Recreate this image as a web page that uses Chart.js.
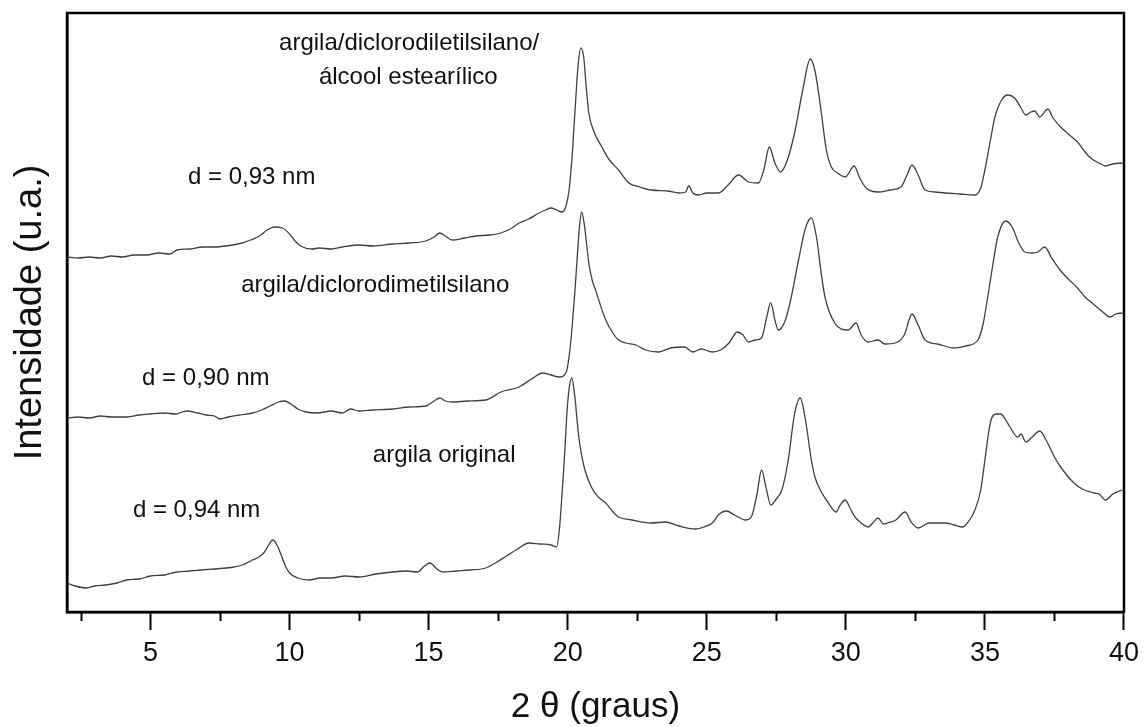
<!DOCTYPE html>
<html>
<head>
<meta charset="utf-8">
<script src="https://cdn.jsdelivr.net/npm/chart.js@4"></script>
<style>
  html, body { margin: 0; padding: 0; background: #fff; }
  #wrap { width: 1146px; height: 727px; }
</style>
</head>
<body>
<div id="wrap"><canvas id="xrd"></canvas></div>
<script>
// ----- DRX data (2θ in degrees, intensity in arbitrary units, curves already offset) -----

const thetaOriginal = [2.0, 2.3, 2.7, 3.0, 3.4, 3.8, 4.15, 4.6, 5.0, 5.5,
  5.95, 6.4, 6.8, 7.3, 7.74, 8.0, 8.3, 8.67, 8.9, 9.1,
  9.25, 9.39, 9.55, 9.7, 9.85, 10.0, 10.3, 10.7, 11.1, 11.5,
  12.0, 12.5, 13.1, 13.7, 14.2, 14.6, 14.85, 15.05, 15.3, 15.5,
  16.0, 16.5, 17.06, 17.4, 17.8, 18.2, 18.6, 19.0, 19.4, 19.6,
  19.7, 19.8, 19.9, 19.98, 20.07, 20.15, 20.25, 20.4, 20.6, 20.87,
  21.1, 21.37, 21.6, 21.83, 22.3, 23.0, 23.5, 24.0, 24.6, 24.9,
  25.2, 25.45, 25.7, 26.0, 26.4, 26.6, 26.8, 26.97, 27.15, 27.3,
  27.5, 27.7, 27.93, 28.15, 28.36, 28.55, 28.76, 28.9, 29.08, 29.35,
  29.65, 29.8, 29.98, 30.15, 30.33, 30.55, 30.8, 31.0, 31.16, 31.35,
  31.5, 31.8, 32.13, 32.35, 32.6, 33.0, 33.57, 33.9, 34.2, 34.45,
  34.64, 34.85, 35.0, 35.12, 35.22, 35.4, 35.57, 35.75, 35.9, 36.18,
  36.3, 36.47, 36.7, 36.97, 37.2, 37.5, 37.8, 38.2, 38.5, 38.94,
  39.1, 39.34, 39.6, 39.95];
const intOriginal = [29, 26, 24, 26, 27, 29, 32, 33, 36, 37,
  40, 41, 42, 43, 44, 45, 47, 52, 55, 60,
  67, 72, 67, 57, 46, 39, 34, 32, 34, 34,
  36, 35, 38, 40, 41, 40, 46, 49, 43, 40,
  41, 42, 44, 49, 56, 63, 69, 68, 67, 65,
  82, 119, 162, 202, 227, 234, 217, 175, 144, 124,
  115, 109, 101, 95, 92, 89, 90, 86, 83, 85,
  89, 98, 101, 97, 92, 95, 117, 142, 122, 107,
  113, 122, 152, 197, 214, 192, 152, 134, 122, 110,
  100, 107, 112, 104, 95, 89, 85, 90, 94, 88,
  89, 92, 100, 90, 84, 89, 89, 87, 85, 92,
  102, 122, 152, 177, 192, 198, 198, 192, 185, 175,
  178, 170, 175, 181, 172, 155, 142, 129, 123, 119,
  118, 112, 118, 122];

const thetaDimetil = [2.0, 2.4, 2.8, 3.2, 3.6, 4.15, 4.6, 5.0, 5.5, 5.9,
  6.3, 6.7, 7.0, 7.3, 7.5, 7.8, 8.2, 8.67, 9.0, 9.3,
  9.6, 9.82, 10.05, 10.3, 10.6, 11.0, 11.5, 11.9, 12.2, 12.5,
  13.0, 13.7, 14.3, 14.9, 15.2, 15.4, 15.6, 15.85, 16.4, 17.06,
  17.6, 18.25, 18.7, 19.1, 19.4, 19.7, 19.95, 20.08, 20.15, 20.25,
  20.33, 20.42, 20.5, 20.6, 20.76, 20.88, 21.0, 21.2, 21.37, 21.6,
  21.83, 22.1, 22.45, 22.8, 23.27, 23.7, 24.2, 24.5, 24.8, 25.2,
  25.5, 25.8, 26.1, 26.3, 26.5, 26.75, 26.97, 27.15, 27.3, 27.45,
  27.57, 27.8, 28.0, 28.3, 28.55, 28.76, 28.95, 29.1, 29.25, 29.6,
  30.08, 30.37, 30.55, 30.8, 31.16, 31.4, 31.77, 32.1, 32.38, 32.6,
  32.85, 33.3, 33.9, 34.3, 34.75, 34.95, 35.1, 35.3, 35.46, 35.75,
  36.0, 36.2, 36.43, 36.7, 36.9, 37.15, 37.4, 37.7, 38.0, 38.33,
  38.6, 38.94, 39.2, 39.5, 39.7, 39.95];
const intDimetil = [194, 195, 194, 196, 195, 195, 197, 198, 199, 198,
  201, 199, 197, 196, 193, 195, 197, 199, 202, 206,
  210, 211, 208, 203, 200, 199, 201, 199, 203, 201,
  202, 203, 205, 206, 211, 214, 211, 210, 211, 212,
  220, 225, 233, 239, 237, 235, 240, 262, 282, 317,
  349, 384, 400, 387, 349, 332, 322, 305, 292, 280,
  272, 269, 267, 262, 260, 264, 265, 260, 263, 260,
  262, 269, 280, 277, 270, 272, 274, 294, 309, 292,
  282, 290, 310, 352, 384, 394, 374, 342, 315, 289,
  282, 289, 277, 270, 272, 268, 269, 277, 298, 287,
  272, 268, 264, 266, 272, 290, 315, 350, 375, 391,
  384, 370, 360, 359, 360, 365, 354, 342, 333, 324,
  315, 307, 301, 295, 298, 299];

const thetaEstearil = [2.0, 2.4, 2.8, 3.2, 3.6, 4.0, 4.4, 4.87, 5.3, 5.7,
  5.95, 6.4, 6.88, 7.3, 7.95, 8.3, 8.6, 8.92, 9.2, 9.45,
  9.75, 10.0, 10.2, 10.4, 10.8, 11.07, 11.5, 11.9, 12.5, 13.0,
  13.7, 14.3, 14.9, 15.2, 15.4, 15.6, 15.85, 16.3, 16.7, 17.2,
  17.6, 18.0, 18.25, 18.6, 18.9, 19.2, 19.4, 19.6, 19.8, 19.95,
  20.05, 20.15, 20.22, 20.3, 20.36, 20.47, 20.58, 20.66, 20.76, 20.95,
  21.23, 21.5, 21.83, 22.2, 22.6, 23.0, 23.6, 24.0, 24.24, 24.35,
  24.5, 24.7, 25.0, 25.42, 25.8, 26.14, 26.5, 26.86, 27.05, 27.25,
  27.45, 27.65, 27.9, 28.18, 28.45, 28.72, 28.9, 29.12, 29.3, 29.48,
  29.7, 29.98, 30.3, 30.5, 30.73, 31.16, 31.6, 31.98, 32.2, 32.38,
  32.6, 32.85, 33.2, 33.56, 34.1, 34.64, 34.85, 35.0, 35.2, 35.36,
  35.6, 35.82, 36.07, 36.3, 36.47, 36.65, 36.79, 36.97, 37.26, 37.45,
  37.72, 38.0, 38.33, 38.6, 38.8, 39.1, 39.34, 39.6, 39.95];
const intEstearil = [355, 354, 355, 354, 356, 355, 357, 357, 359, 358,
  362, 363, 365, 365, 367, 369, 372, 376, 382, 385,
  384, 378, 371, 366, 363, 364, 363, 365, 367, 366,
  368, 369, 371, 375, 379, 376, 372, 374, 376, 377,
  379, 384, 389, 393, 398, 402, 404, 402, 400, 407,
  422, 452, 482, 517, 542, 564, 554, 527, 499, 480,
  465, 452, 442, 429, 425, 422, 421, 419, 420, 426,
  419, 417, 419, 419, 428, 437, 430, 429, 442, 465,
  449, 440, 452, 482, 522, 553, 540, 499, 462, 445,
  439, 435, 446, 434, 424, 420, 422, 425, 437, 447,
  437, 422, 420, 419, 418, 417, 424, 442, 472, 495,
  512, 517, 514, 504, 497, 500, 501, 495, 503, 494,
  485, 478, 470, 460, 454, 449, 446, 448, 449];

// text labels placed in data units
const labelTexts = ['argila/diclorodiletilsilano/', 'álcool estearílico', 'd = 0,93 nm',
  'argila/diclorodimetilsilano', 'd = 0,90 nm', 'argila original', 'd = 0,94 nm'];
const labelX = [14.3, 14.27, 8.64, 13.08, 6.99, 15.56, 6.66];
const labelY = [569, 535, 435, 327, 234, 157, 102];

const minorTicks = [2.5, 7.5, 12.5, 17.5, 22.5, 27.5, 32.5, 37.5];

const FONT = "'Liberation Sans', Arial, sans-serif";
const LINE = '#404040';

function toPoints(xs, ys) {
  return xs.map((x, i) => ({ x, y: ys[i] }));
}

function makeSeries(label, xs, ys) {
  return {
    label,
    data: toPoints(xs, ys),
    borderColor: LINE,
    borderWidth: 1.3,
    pointRadius: 0,
    cubicInterpolationMode: 'monotone',
    fill: false
  };
}

// frame, minor ticks and text labels
const extras = {
  id: 'extras',
  afterDraw(chart) {
    const { ctx, chartArea: a, scales: { x, y } } = chart;
    ctx.save();
    ctx.strokeStyle = '#000';
    ctx.lineWidth = 2.5;
    ctx.strokeRect(a.left, a.top, a.right - a.left, a.bottom - a.top);

    ctx.lineWidth = 2;
    minorTicks.forEach(v => {
      const px = Math.round(x.getPixelForValue(v)) + 0.5;
      ctx.beginPath();
      ctx.moveTo(px, a.bottom);
      ctx.lineTo(px, a.bottom + 9);
      ctx.stroke();
    });

    ctx.fillStyle = '#111';
    ctx.font = '24px ' + FONT;
    ctx.textAlign = 'center';
    ctx.textBaseline = 'middle';
    labelTexts.forEach((t, i) => {
      ctx.fillText(t, x.getPixelForValue(labelX[i]), y.getPixelForValue(labelY[i]));
    });
    ctx.restore();
  }
};

new Chart(document.getElementById('xrd'), {
  type: 'line',
  data: {
    datasets: [
      makeSeries('argila original', thetaOriginal, intOriginal),
      makeSeries('argila/diclorodimetilsilano', thetaDimetil, intDimetil),
      makeSeries('argila/diclorodiletilsilano/álcool estearílico', thetaEstearil, intEstearil)
    ]
  },
  options: {
    responsive: true,
    maintainAspectRatio: false,
    animation: false,
    layout: { padding: { top: 13, right: 19, left: 0, bottom: 0 } },
    plugins: { legend: { display: false }, tooltip: { enabled: false } },
    scales: {
      x: {
        type: 'linear',
        min: 2,
        max: 40,
        afterBuildTicks: s => { s.ticks = s.ticks.filter(t => t.value % 5 === 0); },
        afterFit: s => { s.height = 115; },
        ticks: { stepSize: 5, color: '#111', font: { family: FONT, size: 27 }, padding: 7, maxRotation: 0 },
        grid: { drawOnChartArea: false, drawTicks: true, tickLength: 18, tickWidth: 2, color: '#000' },
        border: { display: true, color: '#000', width: 2.5 },
        title: {
          display: true,
          text: '2 θ (graus)',
          color: '#111',
          font: { family: FONT, size: 35, lineHeight: 1 },
          padding: { top: 0, bottom: 2 }
        }
      },
      y: {
        min: 0,
        max: 599,
        afterFit: s => { s.width = 67; },
        ticks: { display: false },
        grid: { display: false, drawTicks: false },
        border: { display: true, color: '#000', width: 2.5 },
        title: {
          display: true,
          text: 'Intensidade (u.a.)',
          color: '#111',
          font: { family: FONT, size: 38, lineHeight: 1 },
          padding: { top: 12, bottom: 0 }
        }
      }
    }
  },
  plugins: [extras]
});
</script>
</body>
</html>
